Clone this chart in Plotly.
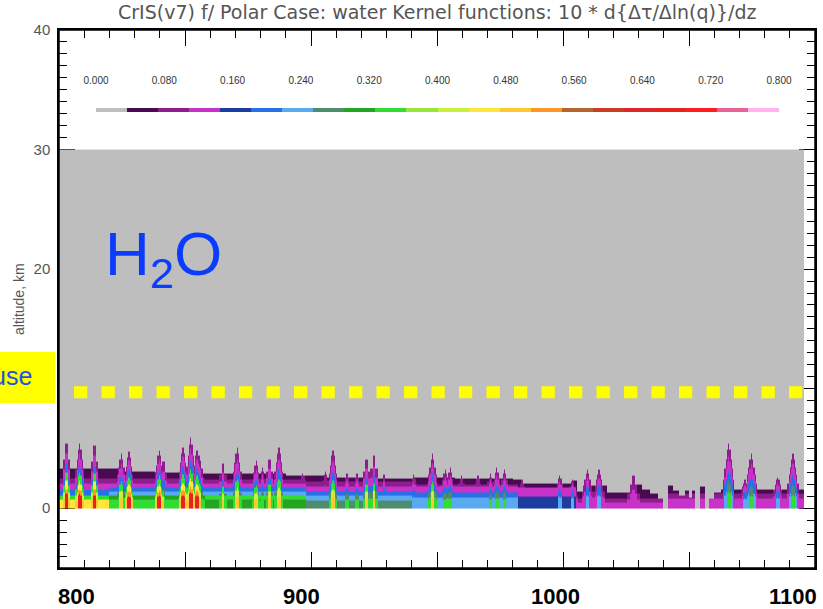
import numpy as np
import plotly.graph_objects as go

# ---------------- data ----------------
# colour table: 22 levels spanning 0.000 .. 0.800
level_colors = ["#BEBEBE", "#4A0A52", "#8E1E8E", "#C832C8", "#1E3CA0", "#2870E6",
                "#5AAAF0", "#4E8C6E", "#23A523", "#32DC32", "#96E63C", "#C8F03C",
                "#FFE63C", "#FFC832", "#FF9628", "#B4642D", "#C83C28", "#DC2828",
                "#E62323", "#FF1E1E", "#E66496", "#FFB4F0"]
cbar_ticks = [0.000, 0.080, 0.160, 0.240, 0.320, 0.400, 0.480, 0.560, 0.640, 0.720, 0.800]

# top of the non-zero kernel (km) per wavenumber segment
top_start = [800, 824, 838, 857, 890, 905, 926, 941, 957, 980, 984, 1004, 1005.6, 1010.8,
             1013.5, 1015.5, 1017.5, 1029, 1031.3, 1034.7, 1037.3, 1039.3, 1041.5, 1043.3,
             1045.9, 1048.5, 1049.9, 1051.2, 1052.5, 1054.5, 1056.5, 1057.8, 1059.8, 1062.4]
top_km = [3.3, 3.1, 3.0, 2.9, 2.75, 2.65, 2.5, 2.6, 2.5, 2.4, 2.1, 2.3, 1.45, 1.9,
          1.5, 1.9, 1.3, 2.0, 1.6, 1.2, 0.8, 0.0, 1.9, 1.55,
          1.1, 1.5, 0.9, 1.5, 0.0, 1.8, 0.0, 0.8, 1.3, 1.65]

# layered background: region start wavenumber, [(layer top km, colour level), ...]; 99 = up to top
region_start = [800, 820, 858, 898, 940, 982, 1005, 1040]
region_layers = [
    [(0.75, 12), (1.15, 9), (1.6, 5), (2.1, 3), (2.5, 2), (99, 1)],
    [(0.7, 9), (1.15, 8), (1.4, 6), (1.7, 5), (2.15, 3), (2.5, 2), (99, 1)],
    [(0.7, 8), (1.1, 9), (1.4, 6), (1.7, 5), (2.1, 3), (2.45, 2), (99, 1)],
    [(0.6, 7), (1.15, 6), (1.4, 5), (1.85, 3), (2.2, 2), (99, 1)],
    [(0.9, 6), (1.3, 5), (1.8, 3), (2.05, 2), (99, 1)],
    [(1.0, 4), (1.75, 3), (99, 1)],
    [(0.5, 3), (0.8, 2), (99, 1)],
    [(0.8, 3), (1.25, 2), (99, 1)],
]

# absorption lines: centre wavenumber, top altitude (km), strength class
line_wn = [803.0, 808.1, 814.0, 824.6, 827.7, 839.8, 841.5, 849.1, 852.4, 854.6, 855.9,
           865.0, 870.9, 878.2, 880.9, 883.5, 887.2, 896.6,
           905.8, 908.7, 914.4, 918.4, 922.0, 925.0, 929.0, 940.9, 948.2, 953.4, 955.2,
           959.7, 966.4, 971.3, 973.7, 976.6, 983.8, 998.8, 1003.7,
           1009.9, 1014.4, 1028.0, 1065.7, 1072.4, 1074.6, 1085.3, 1091.1]
line_top = [5.4, 5.4, 5.2, 4.6, 4.7, 4.85, 3.9, 5.1, 5.9, 4.85, 4.4,
            3.75, 5.1, 4.0, 3.4, 4.1, 5.1, 2.95,
            3.1, 4.85, 2.9, 2.9, 4.1, 4.4, 2.8, 2.8, 4.6, 3.2, 3.35,
            2.75, 2.75, 2.9, 3.35, 3.25, 2.35, 2.75, 2.45,
            3.19, 3.16, 2.72, 5.42, 2.36, 4.59, 2.64, 4.59]
line_cls = ["r", "r", "r", "y", "r", "r", "g", "r", "r", "r", "y",
            "y", "y", "y", "g", "y", "y", "m",
            "m", "y", "g", "g", "y", "y", "b", "b", "y", "g", "g",
            "m", "m", "g", "g", "g", "m", "b", "b",
            "b", "b", "m", "g", "b", "g", "b", "g"]

# colour layering inside a line, bottom -> top, as fraction of its top altitude
line_profiles = {
    "r": [(0.22, 18), (0.30, 14), (0.42, 12), (0.55, 9), (0.68, 5), (0.85, 3), (1.0, 2)],
    "y": [(0.20, 13), (0.33, 11), (0.48, 9), (0.62, 5), (0.80, 3), (1.0, 2)],
    "g": [(0.25, 9), (0.42, 7), (0.58, 5), (0.80, 3), (1.0, 2)],
    "b": [(0.35, 6), (0.60, 5), (0.80, 3), (1.0, 2)],
    "m": [(0.60, 3), (1.0, 2)],
}
weaker = {"r": "y", "y": "g", "g": "b", "b": "m", "m": "m"}
line_side_height = [1.0, 0.9, 0.75, 0.6, 0.45]
line_side_weaken = [0, 0, 1, 1, 2]

tropopause_km = 9.7
x_labels = ["800", "900", "1000", "1100"]
x_label_at = [800, 900, 1000, 1100]

# ---------------- build the kernel field ----------------
wn_edges = np.arange(800.0, 1095.51, 0.5)
wn_c = 0.5 * (wn_edges[:-1] + wn_edges[1:])
alt_edges = list(np.round(np.arange(0.0, 7.01, 0.1), 2)) + [30.0]
alt_c = [0.5 * (alt_edges[i] + alt_edges[i + 1]) for i in range(len(alt_edges) - 1)]

def seg_index(starts, w):
    idx = 0
    for i, s in enumerate(starts):
        if w >= s:
            idx = i
    return idx

z = np.zeros((len(alt_c), len(wn_c)))
for j, w in enumerate(wn_c):
    top = top_km[seg_index(top_start, w)]
    layers = region_layers[seg_index(region_start, w)]
    for i, a in enumerate(alt_c):
        lvl = 0
        if a < top:
            for lt, lv in layers:
                if a < lt:
                    lvl = lv
                    break
        z[i, j] = lvl
    for w0, h0, c0 in zip(line_wn, line_top, line_cls):
        d = int(round(abs(w - w0) / 0.5))
        if d >= len(line_side_height):
            continue
        cls = c0
        for _ in range(line_side_weaken[d]):
            cls = weaker[cls]
        h = h0 * line_side_height[d]
        prof = line_profiles[cls]
        for i, a in enumerate(alt_c):
            if a < h:
                fr = a / h
                for f, lv in prof:
                    if fr < f:
                        z[i, j] = max(z[i, j], lv)
                        break
z = z + 0.5

nlev = len(level_colors)
cscale = []
for k, c in enumerate(level_colors):
    cscale.append([k / nlev, c])
    cscale.append([(k + 1) / nlev, c])

# ---------------- figure ----------------
W, H = 823, 609
L, R, T, B = 59, 815, 30, 568
def px(xp):
    return (xp - L) / (R - L)
def py(yp):
    return (B - yp) / (B - T)

fig = go.Figure()
fig.add_trace(go.Heatmap(x=wn_edges, y=alt_edges, z=z, colorscale=cscale, zmin=0, zmax=nlev,
                         showscale=False, zsmooth=False, hoverinfo="skip"))

x_lo, x_hi = 800, 1100
fig.add_trace(go.Scatter(x=[x_lo - 4.96, x_hi], y=[tropopause_km, tropopause_km], mode="lines",
                         line=dict(color="#FFFF00", width=12, dash="13.3px,14.2px"),
                         hoverinfo="skip", showlegend=False))

cb_edges = np.linspace(cbar_ticks[0], cbar_ticks[-1], nlev + 1)
fig.add_trace(go.Heatmap(x=cb_edges, y=[0, 1], z=[[k + 0.5 for k in range(nlev)]],
                         colorscale=cscale, zmin=0, zmax=nlev, showscale=False,
                         xaxis="x2", yaxis="y2", hoverinfo="skip"))

axis_font = dict(family="Liberation Sans, Arial, sans-serif", size=15, color="#555555")
fig.update_layout(
    width=W, height=H,
    margin=dict(l=L, r=W - R, t=T, b=H - B, autoexpand=False),
    paper_bgcolor="white", plot_bgcolor="white",
    showlegend=False,
    xaxis=dict(range=[x_lo, x_hi], tick0=800, dtick=50, ticks="inside", ticklen=16,
               tickwidth=1.2, tickcolor="black", showticklabels=False, showgrid=False,
               zeroline=False, showline=True, linecolor="black", linewidth=1.5,
               mirror="ticks", layer="below traces", automargin=False,
               minor=dict(dtick=10, ticks="inside", ticklen=8, tickwidth=1.2,
                          tickcolor="black", showgrid=False)),
    yaxis=dict(range=[-5, 40], tick0=0, dtick=10, ticks="inside", ticklen=16,
               tickwidth=1.2, tickcolor="black", tickfont=axis_font, showgrid=False,
               zeroline=False, showline=True, linecolor="black", linewidth=1.5,
               mirror="ticks", layer="below traces", ticklabelstandoff=4, automargin=False,
               minor=dict(dtick=1, ticks="inside", ticklen=8, tickwidth=1.2,
                          tickcolor="black", showgrid=False)),
    xaxis2=dict(domain=[px(96), px(779)], anchor="y2", side="top",
                range=[cbar_ticks[0], cbar_ticks[-1]],
                tickvals=cbar_ticks, ticktext=["%.3f" % v for v in cbar_ticks],
                ticks="outside", ticklen=19, tickcolor="rgba(0,0,0,0)", automargin=False,
                tickfont=dict(family="Liberation Sans, Arial, sans-serif", size=10, color="#333333"),
                showgrid=False, zeroline=False, showline=False),
    yaxis2=dict(domain=[py(112), py(108)], anchor="x2", range=[0, 1], visible=False,
                automargin=False),
)

# plot frame
fig.add_shape(type="rect", xref="paper", yref="paper", x0=0, x1=1, y0=0, y1=1,
              line=dict(color="black", width=1.5), layer="above")
# box at the left edge
fig.add_shape(type="rect", xref="paper", yref="paper", x0=px(0), x1=px(55), y0=py(403), y1=py(352),
              fillcolor="#FFFF00", line=dict(width=0), layer="above")

fig.add_annotation(text="CrIS(v7) f/ Polar Case: water Kernel functions: 10 * d{Δτ/Δln(q)}/dz",
                   xref="paper", yref="paper", x=0.5, y=py(12), xanchor="center", yanchor="middle",
                   showarrow=False, font=dict(family="DejaVu Sans, sans-serif", size=19, color="#555555"))
fig.add_annotation(text="altitude, km", xref="paper", yref="paper", x=px(19), y=0.5,
                   textangle=-90, showarrow=False, xanchor="center", yanchor="middle",
                   font=dict(family="Liberation Sans, Arial, sans-serif", size=14, color="#555555"))
fig.add_annotation(text="H<sub>2</sub>O", xref="paper", yref="paper", x=px(103), y=py(258),
                   xanchor="left", yanchor="middle", showarrow=False,
                   font=dict(family="Liberation Sans, Arial, sans-serif", size=62, color="#0A3CFF"))
fig.add_annotation(text="use", xref="paper", yref="paper", x=px(34), y=py(376),
                   xanchor="right", yanchor="middle", showarrow=False,
                   font=dict(family="Liberation Sans, Arial, sans-serif", size=25, color="#1E50E6"))

anchors = ["left", "center", "center", "right"]
shifts = [-3, -10, -8, 4]
for t, xv, an, sh in zip(x_labels, x_label_at, anchors, shifts):
    fig.add_annotation(text="<b>%s</b>" % t, xref="x", yref="paper", x=xv, y=py(596),
                       xanchor=an, yanchor="middle", xshift=sh, showarrow=False,
                       font=dict(family="Liberation Sans, Arial, sans-serif", size=22, color="black"))

fig.write_html("out.html", config={"displayModeBar": False},
               post_script="document.body.style.margin='0px';")
